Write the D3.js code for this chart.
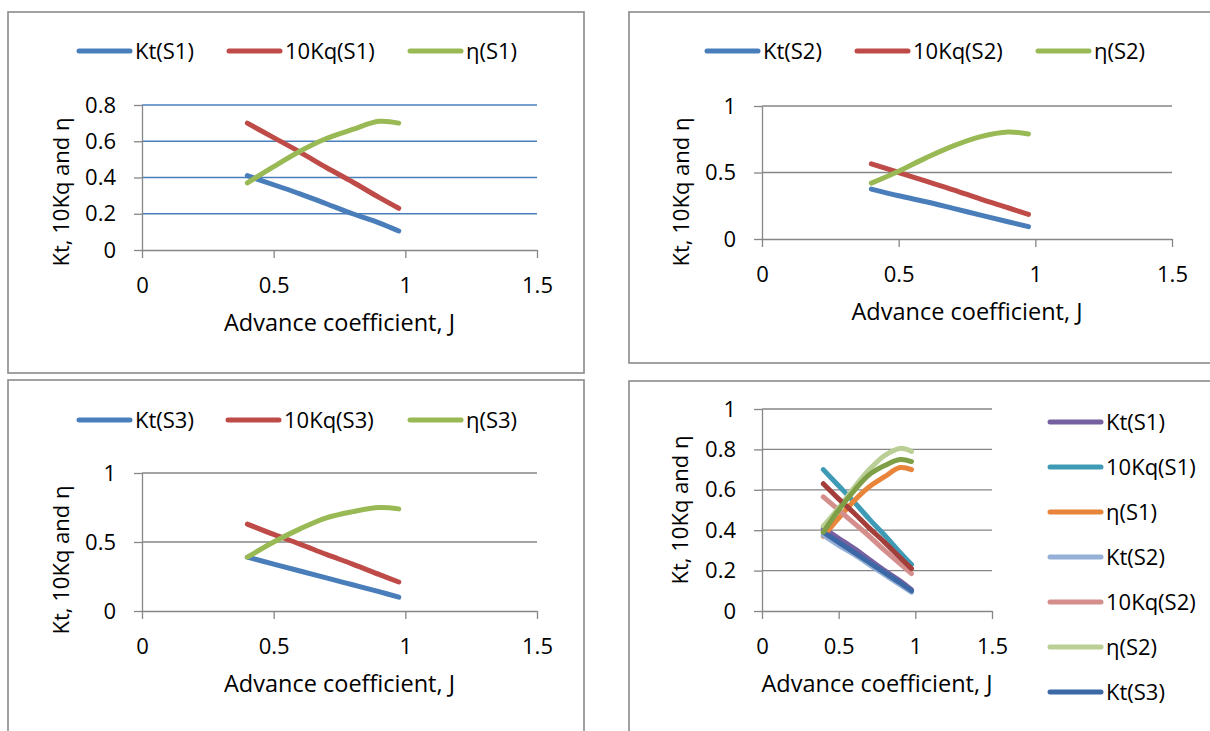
<!DOCTYPE html>
<html>
<head>
  <script src="https://d3js.org/d3.v7.min.js"></script>
  <style>
    body { margin: 0; background: #fff; overflow: hidden; }
    svg text { font-family: "Open Sans", sans-serif; fill: #000; }
  </style>
  <title>Kt, 10Kq and eta</title>
</head>
<body>
  <script>
    // advance coefficient J (same for every series)
    const advance = [0.4, 0.5, 0.6, 0.7, 0.8, 0.9, 0.975];

    // series
    const ktS1   = [0.41, 0.36, 0.31, 0.255, 0.20, 0.15, 0.105];
    const kqS1   = [0.70, 0.62, 0.54, 0.455, 0.375, 0.29, 0.23];
    const etaS1  = [0.37, 0.46, 0.545, 0.615, 0.665, 0.71, 0.70];
    const ktS2   = [0.375, 0.325, 0.28, 0.23, 0.18, 0.13, 0.093];
    const kqS2   = [0.565, 0.50, 0.435, 0.37, 0.30, 0.235, 0.185];
    const etaS2  = [0.42, 0.51, 0.61, 0.70, 0.77, 0.805, 0.79];
    const ktS3   = [0.39, 0.34, 0.29, 0.24, 0.19, 0.14, 0.10];
    const kqS3   = [0.63, 0.555, 0.485, 0.41, 0.34, 0.265, 0.21];
    const etaS3  = [0.39, 0.50, 0.595, 0.675, 0.72, 0.75, 0.74];

    const seriesNames = ["Kt(S1)", "10Kq(S1)", "η(S1)", "Kt(S2)", "10Kq(S2)", "η(S2)", "Kt(S3)", "10Kq(S3)", "η(S3)"];
    const seriesValues = [ktS1, kqS1, etaS1, ktS2, kqS2, etaS2, ktS3, kqS3, etaS3];

    const xTicks = [0, 0.5, 1, 1.5];
    const yTicksS1 = [0, 0.2, 0.4, 0.6, 0.8];
    const yTicksHalf = [0, 0.5, 1];
    const yTicksAll = [0, 0.2, 0.4, 0.6, 0.8, 1];

    const xTitle = "Advance coefficient, J";
    const yTitle = "Kt, 10Kq and η";

    // colours
    const threeColors = ["#4a7ebb", "#be4b48", "#98b954"];
    const allColors = ["#7660a0", "#3f9bb5", "#e8853a", "#95b0d6", "#d48f8d", "#b9cf95", "#3c68a6", "#a33e3b", "#7f9f46"];

    const W = 1210, H = 731;
    const svg = d3.select("body").append("svg")
      .attr("width", W)
      .attr("height", H);

    svg.append("rect").attr("width", W).attr("height", H).attr("fill", "#fff");

    // panel layout
    const panels = [
      { box: [8, 12, 576, 361], plot: [142, 537, 105, 250], yMax: 0.8, yTicks: yTicksS1, grid: "#4a7ebb",
        series: [0, 1, 2], colors: threeColors, legend: { xs: [77, 227, 408], y: 51 }, ylab: [61, 192] },
      { box: [629, 12, 600, 351], plot: [762, 1172, 106, 239], yMax: 1, yTicks: yTicksHalf, grid: "#868686",
        series: [3, 4, 5], colors: threeColors, legend: { xs: [705, 855, 1036], y: 51 }, ylab: [681, 192] },
      { box: [8, 380, 576, 380], plot: [142, 537, 473, 611], yMax: 1, yTicks: yTicksHalf, grid: "#868686",
        series: [6, 7, 8], colors: threeColors, legend: { xs: [77, 226, 408], y: 420 }, ylab: [61, 560] },
      { box: [629, 381, 600, 380], plot: [762, 992, 409, 611], yMax: 1, yTicks: yTicksAll, grid: "#868686",
        series: [0, 1, 2, 3, 4, 5, 6, 7, 8], colors: allColors, legend: { x: 1048, y0: 422, step: 45 }, ylab: [680, 510] }
    ];

    panels.forEach(function (p) {
      const g = svg.append("g");

      // chart border
      g.append("rect")
        .attr("x", p.box[0]).attr("y", p.box[1])
        .attr("width", p.box[2]).attr("height", p.box[3])
        .attr("fill", "#fff")
        .attr("stroke", "#8a8a8a")
        .attr("stroke-width", 1.6);

      const x = d3.scaleLinear().domain([0, 1.5]).range([p.plot[0], p.plot[1]]);
      const y = d3.scaleLinear().domain([0, p.yMax]).range([p.plot[3], p.plot[2]]);

      // gridlines (not on 0)
      g.selectAll(".grid")
        .data(p.yTicks.filter(d => d > 0))
        .enter()
        .append("line")
        .attr("x1", x(0)).attr("x2", x(1.5))
        .attr("y1", d => y(d)).attr("y2", d => y(d))
        .attr("stroke", p.grid)
        .attr("stroke-width", 1.3);

      // y axis
      const yAxis = g.append("g")
        .attr("transform", "translate(" + x(0) + ",0)")
        .call(d3.axisLeft(y).tickValues(p.yTicks).tickSize(8).tickSizeOuter(0).tickPadding(18).tickFormat(d => String(d)));

      // x axis
      const xAxis = g.append("g")
        .attr("transform", "translate(0," + y(0) + ")")
        .call(d3.axisBottom(x).tickValues(xTicks).tickSize(8).tickSizeOuter(0).tickFormat(d => String(d)));

      [yAxis, xAxis].forEach(function (a) {
        a.attr("font-family", null).attr("font-size", null);
        a.selectAll("path, line").attr("stroke", "#868686").attr("stroke-width", 1.3);
        a.selectAll("text").style("font-size", "22px");
      });
      xAxis.selectAll("text").attr("y", 35).attr("dy", "0.35em");

      // axis titles
      g.append("text")
        .attr("x", (p.plot[0] + p.plot[1]) / 2)
        .attr("y", y(0) + 73)
        .attr("dy", "0.35em")
        .attr("text-anchor", "middle")
        .style("font-size", "23.5px")
        .text(xTitle);

      g.append("text")
        .attr("transform", "translate(" + p.ylab[0] + "," + p.ylab[1] + ") rotate(-90)")
        .attr("dy", "0.35em")
        .attr("text-anchor", "middle")
        .style("font-size", "22px")
        .text(yTitle);

      // lines
      const line = d3.line()
        .x((d, i) => x(advance[i]))
        .y(d => y(d))
        .curve(d3.curveCatmullRom.alpha(0.5));

      g.selectAll(".series")
        .data(p.series)
        .enter()
        .append("path")
        .attr("d", s => line(seriesValues[s]))
        .attr("fill", "none")
        .attr("stroke", (s, i) => p.colors[i])
        .attr("stroke-width", 5)
        .attr("stroke-linecap", "round")
        .attr("stroke-linejoin", "round");

      // legend
      const items = p.series.map(function (s, i) {
        if (p.legend.xs) {
          return { name: seriesNames[s], color: p.colors[i], x: p.legend.xs[i], y: p.legend.y };
        }
        return { name: seriesNames[s], color: p.colors[i], x: p.legend.x, y: p.legend.y0 + i * p.legend.step };
      }).filter(d => d.y < H - 20);

      const lg = g.selectAll(".legend")
        .data(items)
        .enter()
        .append("g");

      lg.append("line")
        .attr("x1", d => d.x + 2).attr("x2", d => d.x + 53)
        .attr("y1", d => d.y).attr("y2", d => d.y)
        .attr("stroke", d => d.color)
        .attr("stroke-width", 5)
        .attr("stroke-linecap", "round");

      lg.append("text")
        .attr("x", d => d.x + 58)
        .attr("y", d => d.y)
        .attr("dy", "0.35em")
        .style("font-size", "22px")
        .text(d => d.name);
    });
  </script>
</body>
</html>
